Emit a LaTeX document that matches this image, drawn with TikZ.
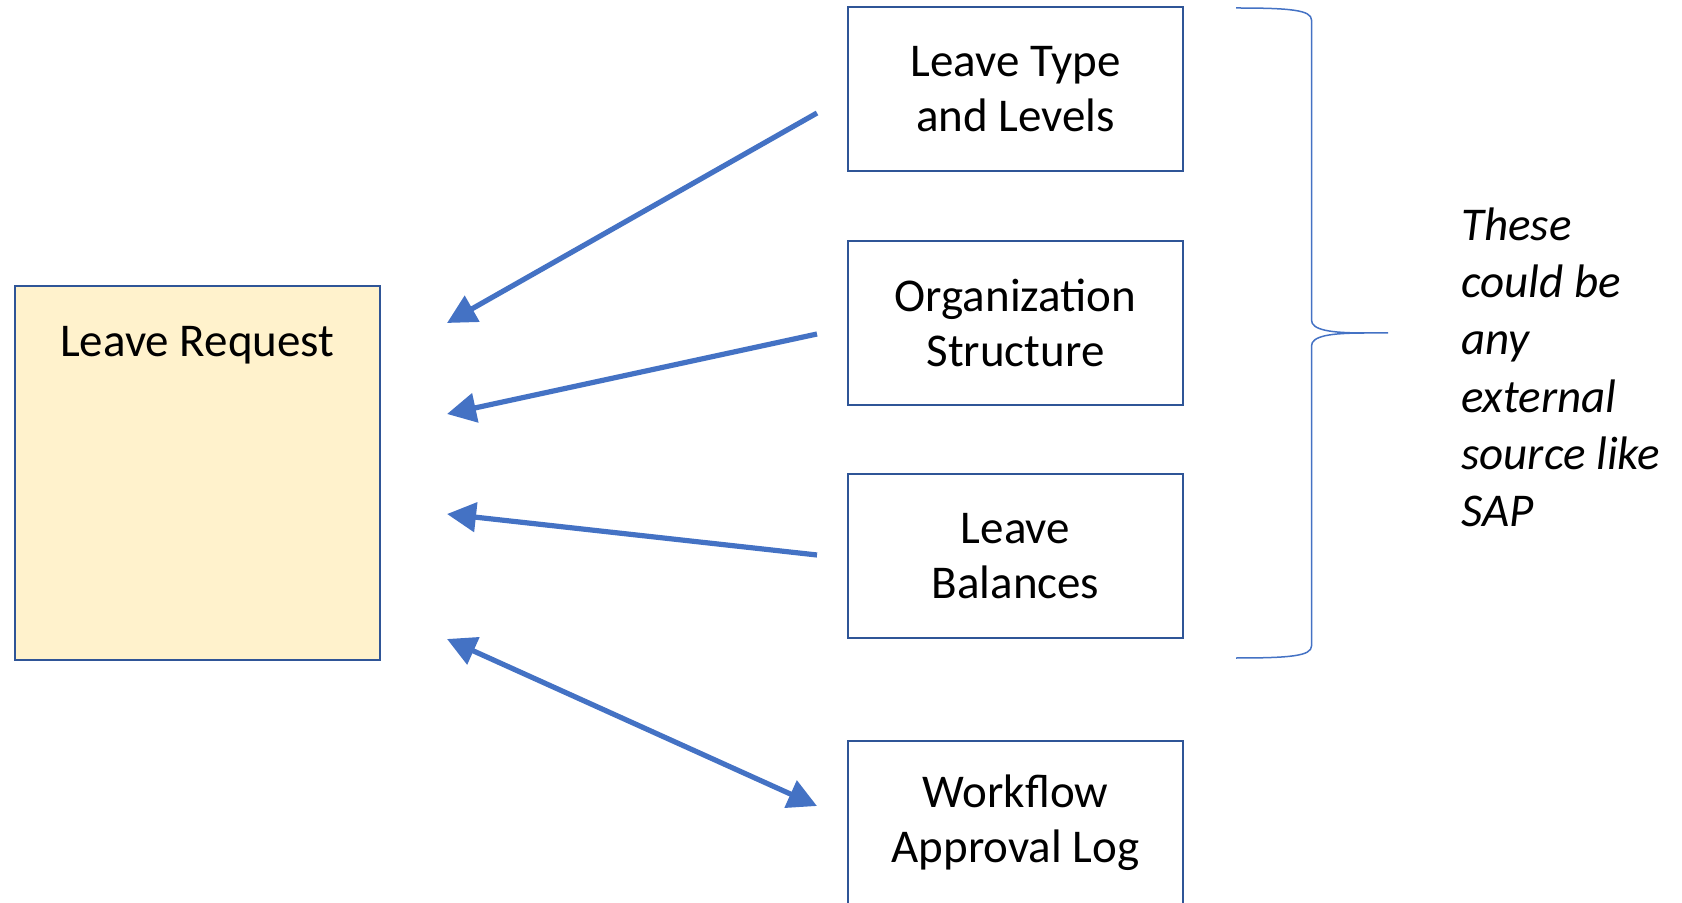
\documentclass[tikz,border=0pt]{standalone}
\usepackage{fontspec}
\setmainfont{Carlito}
\usetikzlibrary{arrows.meta}
\definecolor{boxborder}{HTML}{2F5597}
\definecolor{boxfill}{HTML}{FFF2CC}
\definecolor{arrowblue}{HTML}{4472C4}
\tikzset{
  srcbox/.style={draw=boxborder, line width=1pt, minimum width=167.5pt, minimum height=82pt,
    inner sep=0pt, align=center, font=\fontsize{23.5pt}{27.5pt}\selectfont},
  reqbox/.style={draw=boxborder, fill=boxfill, line width=1pt, minimum width=182.7pt,
    minimum height=187pt, inner sep=0pt},
  flow/.style={draw=arrowblue, line width=2.6pt, -{Triangle[length=14.5pt,width=14.5pt]}},
  flowboth/.style={draw=arrowblue, line width=2.6pt, {Triangle[length=14.5pt,width=14.5pt]}-{Triangle[length=14.5pt,width=14.5pt]}},
  bracestyle/.style={draw=arrowblue, line width=0.75pt},
  note/.style={font=\fontsize{23.5pt}{28.7pt}\selectfont\itshape, align=left, inner sep=0pt}
}
\begin{document}
\begin{tikzpicture}[x=0.5pt,y=-0.5pt]
\useasboundingbox (0,0) rectangle (1682,903);
\clip (0,0) rectangle (1682,903);
% main box
\node[reqbox] (req) at (197.3,473) {};
\node[anchor=base, inner sep=0pt, font=\fontsize{23.5pt}{27.5pt}\selectfont] (reqtext) at ([yshift=-36pt]req.north) {Leave Request};
% source boxes
\node[srcbox] (lt) at (1015.5,89) {Leave Type\\and Levels};
\node[srcbox] (org) at (1015.5,323) {Organization\\Structure};
\node[srcbox] (bal) at (1015.5,556) {Leave\\Balances};
\node[srcbox] (wf) at (1015.5,823) {Workflow\\Approval Log};
% arrow end points
\coordinate (a1s) at (817,113);  \coordinate (a1e) at (447,323);
\coordinate (a2s) at (817,334);  \coordinate (a2e) at (447,414);
\coordinate (a3s) at (817,555);  \coordinate (a3e) at (447,514);
\coordinate (a4s) at (447,639);  \coordinate (a4e) at (817,806);
\draw[flow] (a1s) -- (a1e);
\draw[flow] (a2s) -- (a2e);
\draw[flow] (a3s) -- (a3e);
\draw[flowboth] (a4s) -- (a4e);
% brace
\draw[bracestyle] (1236,8) .. controls (1290,8) and (1311.5,10) .. (1311.5,20)
  -- (1311.5,320) .. controls (1311.5,330) and (1330,333) .. (1365,333) -- (1388,333)
  -- (1365,333) .. controls (1330,333) and (1311.5,336) .. (1311.5,346)
  -- (1311.5,646) .. controls (1311.5,656) and (1290,658) .. (1236,658);
% note
\node[note, anchor=base west] (note) at (1461,527) {These\\could be\\any\\external\\source like\\SAP};
\end{tikzpicture}
\end{document}
